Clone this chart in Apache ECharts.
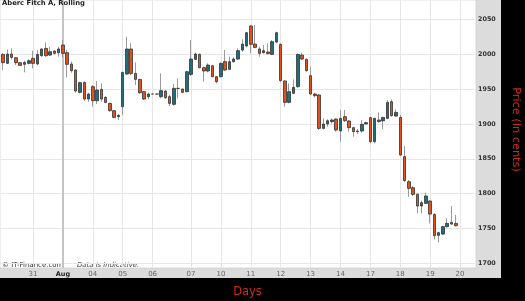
<!DOCTYPE html>
<html>
<head>
<meta charset="utf-8">
<script src="https://cdn.jsdelivr.net/npm/echarts@6/dist/echarts.min.js"></script>
<style>html,body{margin:0;padding:0;background:#000;}#c{width:525px;height:301px;}</style>
</head>
<body>
<div id="c"></div>
<script>
// Hourly candles (Jul 30 - Aug 20)
const opens  = [1999.8,1986.9,2000.3,1995.0,1987.9,1985.5,1986.9,1994.1,1986.0,1997.9,2008.4,1998.8,2004.6,2002.2,2013.2,2002.2,1986.0,1977.3,1945.3,1959.6,1935.7,1953.4,1933.3,1949.6,1938.1,1929.5,1919.0,1910.4,1924.7,1971.6,2007.5,1972.5,1963.9,1946.3,1939.1,1942.9,1942.9,1939.1,1947.2,1939.1,1928.1,1951.0,1950.1,1946.3,1971.1,1992.6,1999.8,1980.7,1975.9,1983.5,1967.8,1967.8,1989.3,1978.3,1989.3,1993.1,2006.0,2011.8,2040.5,2014.6,2007.5,2002.2,2003.2,1999.8,2017.5,2014.2,1961.6,1930.9,1943.9,1953.4,1998.8,1992.6,1969.2,1942.9,1941.5,1893.6,1899.9,1903.2,1907.0,1890.0,1910.4,1904.2,1894.6,1888.9,1889.8,1899.9,1909.0,1874.5,1905.6,1904.4,1908.0,1931.9,1911.3,1909.4,1853.0,1817.1,1808.5,1799.0,1782.2,1786.0,1789.4,1770.3,1740.1,1742.0,1752.6,1758.8,1757.3];
const closes = [1987.9,2000.3,1995.5,1987.9,1984.0,1988.3,1990.7,1986.9,1999.8,2007.5,1997.9,2003.6,2001.2,2007.5,2001.2,1985.5,1976.4,1947.2,1959.2,1935.7,1942.9,1933.3,1948.6,1935.7,1930.9,1919.0,1909.4,1912.3,1974.0,2007.5,1972.5,1963.9,1944.8,1935.7,1942.9,1942.9,1942.9,1947.7,1937.6,1929.5,1951.0,1951.0,1945.3,1974.9,1993.1,2000.3,1980.7,1975.9,1984.5,1967.8,1960.6,1986.9,1977.3,1989.3,1993.1,2005.1,2014.6,2030.9,2014.2,2009.8,2001.2,2005.1,2000.8,2018.0,2030.9,1962.0,1930.9,1946.3,1952.5,1999.8,1993.1,1976.4,1942.9,1940.5,1893.6,1899.9,1904.6,1905.6,1891.2,1908.0,1904.6,1894.6,1888.9,1889.8,1899.4,1901.8,1874.5,1908.0,1903.2,1909.2,1930.9,1911.8,1916.6,1855.4,1818.6,1807.6,1799.0,1782.2,1787.0,1796.6,1770.7,1739.6,1744.0,1752.6,1757.3,1756.4,1754.0];
const lows   = [1977.3,1986.0,1992.6,1984.5,1983.1,1974.0,1985.5,1979.7,1984.5,1996.5,1996.5,1997.4,1999.8,1996.5,1995.5,1966.8,1973.5,1944.8,1943.9,1933.3,1931.9,1924.7,1928.6,1931.9,1929.5,1917.5,1908.0,1905.6,1912.8,1970.2,1970.2,1955.8,1942.9,1934.3,1935.7,1942.9,1942.9,1936.7,1935.7,1925.7,1926.2,1936.7,1943.9,1945.3,1968.7,1991.7,1979.7,1960.6,1974.0,1966.8,1958.2,1966.8,1976.4,1977.3,1987.9,1991.7,2003.6,2009.8,2001.2,2008.4,1996.5,2001.2,1999.8,1998.8,2015.6,1960.6,1924.7,1929.5,1942.9,1952.0,1991.7,1974.9,1941.5,1938.1,1891.2,1892.2,1896.0,1900.8,1888.9,1874.5,1903.0,1888.9,1881.7,1885.5,1887.4,1899.4,1872.1,1872.1,1901.8,1892.7,1906.6,1910.4,1910.4,1853.9,1817.1,1795.6,1796.6,1771.7,1771.7,1785.1,1757.3,1734.4,1730.1,1740.6,1751.2,1755.0,1752.6];
const highs  = [2001.2,2007.0,2008.4,1995.5,1988.8,1990.7,1992.6,2005.1,2006.0,2008.4,2017.0,2010.8,2006.0,2010.8,2020.4,2006.0,1989.3,1978.3,1960.6,1960.6,1944.8,1955.8,1961.6,1958.2,1940.0,1930.5,1919.9,1914.2,1974.9,2025.2,2015.6,1988.3,1963.9,1947.2,1944.8,1942.9,1942.9,1972.5,1948.6,1941.5,1957.2,1965.4,1951.0,1976.4,2020.4,2002.2,2001.2,1982.1,1986.9,1984.5,1968.7,1988.3,2006.0,1996.5,1995.5,2008.4,2021.3,2032.3,2041.9,2041.9,2010.8,2013.2,2015.6,2020.4,2032.3,2015.6,1963.0,1958.2,1963.9,2001.2,2002.2,1994.1,1982.1,1944.8,1942.9,1908.0,1906.6,1908.0,1908.0,1920.0,1920.0,1905.6,1896.0,1892.7,1905.6,1903.2,1910.4,1909.0,1916.6,1910.4,1934.3,1935.2,1920.9,1913.2,1868.3,1819.5,1810.9,1800.4,1789.9,1801.4,1790.8,1771.7,1745.4,1754.0,1764.5,1782.2,1769.3];

// Day labels and the slot index at which each sits
const dayLabels  = ['31','Aug','04','05','06','07','10','11','12','13','14','17','18','19','20'];
const dayIndex   = [7,14,21,28,35,44,51,58,65,72,79,86,93,100,107];
const slotCount  = 111;
const priceTicks = [1700,1750,1800,1850,1900,1950,2000,2050];

const categories = [];
for (let i = 0; i < slotCount; i++) categories.push(String(i));
const labelAt = {};
dayIndex.forEach((d, k) => { labelAt[d] = dayLabels[k]; });

const wickData = opens.map((o, i) => [o, closes[i], lows[i], highs[i]]);
const bodyData = opens.map((o, i) => [o, closes[i], Math.min(o, closes[i]), Math.max(o, closes[i])]);

const FONT = 'DejaVu Sans';
const chart = echarts.init(document.getElementById('c'), null, {renderer: 'canvas'});
chart.setOption({
  animation: false,
  backgroundColor: '#000000',
  title: {
    text: 'Aberc Fitch A, Rolling', left: 2, top: 0, padding: 0,
    textStyle: {fontFamily: FONT, fontSize: 6.8, fontWeight: 'bold', color: '#222'}
  },
  graphic: [
    {id: 'bg1', type: 'rect', z: -10, shape: {x: 0, y: 0, width: 501, height: 278}, style: {fill: '#dcdcdc'}, silent: true},
    {id: 'bg2', type: 'rect', z: -10, shape: {x: 0, y: 0, width: 476, height: 268}, style: {fill: '#ffffff', stroke: '#c8c8c8', lineWidth: 0.6}, silent: true},
    {id: 't1', type: 'text', x: 2, y: 265.5, style: {text: '© IT-Finance.com', fontFamily: FONT, fontSize: 7, fill: '#333', verticalAlign: 'middle'}},
    {id: 't2', type: 'text', x: 77, y: 265.5, style: {text: 'Data is Indicative.', fontFamily: FONT, fontSize: 6.9, fontStyle: 'italic', fill: '#444', verticalAlign: 'middle'}},
    {id: 't3', type: 'text', x: 247.5, y: 292, style: {text: 'Days', fontFamily: FONT, fontSize: 11.5, fill: '#d22a1e', align: 'center', verticalAlign: 'middle'}},
    {id: 't4', type: 'text', x: 515.5, y: 129.5, rotation: -Math.PI / 2, style: {text: 'Price (In cents)', fontFamily: FONT, fontSize: 11.3, fill: '#d22a1e', align: 'center', verticalAlign: 'middle'}}
  ],
  grid: {left: 1, top: 0, width: 474, height: 268, show: false, containLabel: false},
  xAxis: {
    type: 'category', data: categories, boundaryGap: true,
    axisLine: {show: false}, axisTick: {show: false}, splitLine: {show: false},
    axisLabel: {
      interval: 0, margin: 3, fontFamily: FONT, fontSize: 7, color: '#666',
      formatter: (v, idx) => {
        const t = labelAt[idx];
        if (!t) return '';
        return t === 'Aug' ? '{b|Aug}' : t;
      },
      rich: {b: {fontFamily: FONT, fontSize: 6.5, fontWeight: 'bold', color: '#222'}}
    }
  },
  yAxis: {
    type: 'value', position: 'right', min: 1693.3, max: 2077.8, scale: true,
    axisLine: {show: false},
    axisTick: {show: false, customValues: priceTicks},
    axisLabel: {customValues: priceTicks, margin: 3, fontFamily: FONT, fontSize: 6.4, fontWeight: 'bold', color: '#333',
      formatter: v => String(Math.round(v))},
    splitLine: {show: true, lineStyle: {color: '#e6e6e6', width: 1}}
  },
  series: [
    {
      type: 'candlestick', name: 'wick', data: wickData, barWidth: 1, z: 2,
      itemStyle: {color: '#9a9a9a', color0: '#9a9a9a', borderColor: '#9a9a9a', borderColor0: '#9a9a9a', borderWidth: 1},
      markLine: {
        silent: true, symbol: ['none', 'none'], label: {show: false}, z: 1, animation: false,
        data: dayIndex.map((d, k) => ({
          xAxis: d,
          lineStyle: dayLabels[k] === 'Aug' ? {color: '#c4c4c4', width: 2, type: 'solid'} : {color: '#e6e6e6', width: 1, type: 'solid'}
        }))
      }
    },
    {
      type: 'candlestick', name: 'body', data: bodyData, barWidth: 3, z: 3,
      itemStyle: {color: '#1e6f7b', color0: '#e2501c', borderColor: '#333', borderColor0: '#333', borderWidth: 0.8}
    }
  ]
});
</script>
</body>
</html>
